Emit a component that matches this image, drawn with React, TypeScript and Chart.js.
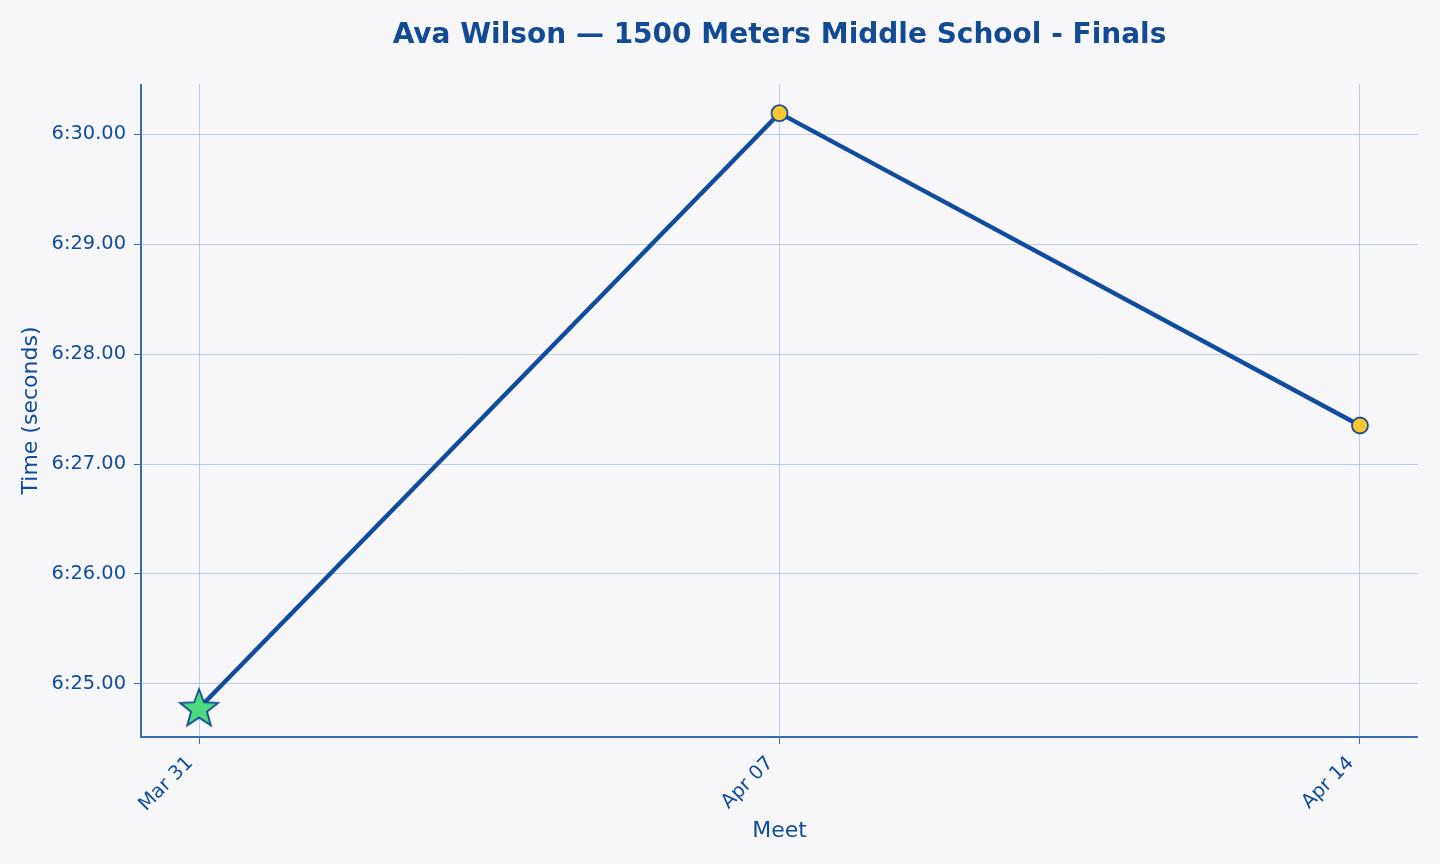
import React, { useEffect, useRef } from "react";
import { Chart, registerables } from "chart.js";

Chart.register(...registerables);

const meets = ["Mar 31", "Apr 07", "Apr 14"];
const times = [384.78, 390.19, 387.35];
const yTicks = [385, 386, 387, 388, 389, 390];
const bestIndex = 0;

const TITLE = "Ava Wilson — 1500 Meters Middle School - Finals";
const X_TITLE = "Meet";
const Y_TITLE = "Time (seconds)";

const DARK = "#0f4c9c";
const SPINE = "#3a6db0";
const GRID = "rgba(120,155,215,0.45)";
const BG = "#f7f7fa";
const FONT = "'DejaVu Sans', sans-serif";

function fmt(v: number): string {
  const m = Math.floor(v / 60);
  const s = v - m * 60;
  return `${m}:${s.toFixed(2).padStart(5, "0")}`;
}

function makeStar(): HTMLCanvasElement {
  const size = 46;
  const c = document.createElement("canvas");
  c.width = size;
  c.height = size;
  const ctx = c.getContext("2d")!;
  const cx = size / 2;
  const cy = size / 2 + 1;
  const R = 20;
  const r = R * 0.42;
  ctx.beginPath();
  for (let i = 0; i < 10; i++) {
    const rad = i % 2 === 0 ? R : r;
    const a = -Math.PI / 2 + (i * Math.PI) / 5;
    const x = cx + rad * Math.cos(a);
    const y = cy + rad * Math.sin(a);
    if (i === 0) ctx.moveTo(x, y);
    else ctx.lineTo(x, y);
  }
  ctx.closePath();
  ctx.fillStyle = "#4cdc7e";
  ctx.fill();
  ctx.lineWidth = 1.8;
  ctx.strokeStyle = "#134a94";
  ctx.lineJoin = "miter";
  ctx.stroke();
  return c;
}

export default function App() {
  const ref = useRef<HTMLCanvasElement>(null);

  useEffect(() => {
    document.body.style.margin = "0";
    document.body.style.background = BG;
    const star = makeStar();

    const textPlugin = {
      id: "texts",
      beforeDraw(chart: any) {
        const ctx = chart.ctx;
        ctx.save();
        ctx.fillStyle = BG;
        ctx.fillRect(0, 0, chart.width, chart.height);
        ctx.restore();
      },
      afterDraw(chart: any) {
        const ctx = chart.ctx;
        const a = chart.chartArea;
        ctx.save();
        ctx.fillStyle = "#134a94";
        ctx.textAlign = "center";
        ctx.textBaseline = "middle";
        ctx.font = `bold 28px ${FONT}`;
        ctx.fillText(TITLE, (a.left + a.right) / 2, 36);
        ctx.fillStyle = DARK;
        ctx.font = `22px ${FONT}`;
        ctx.fillText(X_TITLE, (a.left + a.right) / 2, 831);
        ctx.translate(31, (a.top + a.bottom) / 2);
        ctx.rotate(-Math.PI / 2);
        ctx.fillText(Y_TITLE, 0, 0);
        ctx.restore();
        // spines
        ctx.save();
        ctx.strokeStyle = SPINE;
        ctx.lineWidth = 2;
        ctx.beginPath();
        ctx.moveTo(a.left, a.top);
        ctx.lineTo(a.left, a.bottom);
        ctx.lineTo(a.right, a.bottom);
        ctx.stroke();
        ctx.restore();
      },
    };

    const chart = new Chart(ref.current!, {
      type: "line",
      data: {
        datasets: [
          {
            data: times.map((t, i) => ({ x: i, y: t })),
            borderColor: DARK,
            borderWidth: 4.4,
            tension: 0,
            pointStyle: times.map((_, i) => (i === bestIndex ? star : "circle")) as any,
            pointRadius: times.map((_, i) => (i === bestIndex ? 20 : 8)),
            pointBackgroundColor: "#f8c732",
            pointBorderColor: "#1d4f96",
            pointBorderWidth: 1.8,
            clip: false as any,
          },
        ],
      },
      options: {
        animation: false,
        responsive: false,
        maintainAspectRatio: false,
        layout: { padding: { top: 84, right: 22, left: 0, bottom: 0 } },
        plugins: {
          legend: { display: false },
          tooltip: { enabled: false },
          title: { display: false },
        },
        scales: {
          x: {
            type: "linear",
            min: -0.1,
            max: 2.1,
            afterBuildTicks: (s: any) => {
              s.ticks = meets.map((_, i) => ({ value: i }));
            },
            afterFit: (s: any) => {
              s.height = 864 - 737;
            },
            border: { display: false },
            grid: {
              color: GRID,
              lineWidth: 1,
              tickColor: SPINE,
              tickLength: 7,
              drawTicks: true,
            },
            ticks: {
              autoSkip: false,
              minRotation: 45,
              maxRotation: 45,
              padding: 8,
              labelOffset: -9,
              color: DARK,
              font: { family: FONT, size: 19.4 },
              callback: (v: any) => meets[Math.round(Number(v))] ?? "",
            },
          },
          y: {
            type: "linear",
            min: 384.518,
            max: 390.455,
            afterBuildTicks: (s: any) => {
              s.ticks = yTicks.map((v) => ({ value: v }));
            },
            afterFit: (s: any) => {
              s.width = 141;
            },
            border: { display: false },
            grid: {
              color: GRID,
              lineWidth: 1,
              tickColor: SPINE,
              tickLength: 7,
              drawTicks: true,
            },
            ticks: {
              padding: 8,
              color: DARK,
              font: { family: FONT, size: 19.4 },
              callback: (v: any) => fmt(Number(v)),
            },
          },
        },
      },
      plugins: [textPlugin],
    });
    return () => chart.destroy();
  }, []);

  return (
    <div style={{ position: "fixed", left: 0, top: 0, width: 1440, height: 864, background: BG }}>
      <canvas ref={ref} width={1440} height={864} style={{ display: "block", width: 1440, height: 864 }} />
    </div>
  );
}
